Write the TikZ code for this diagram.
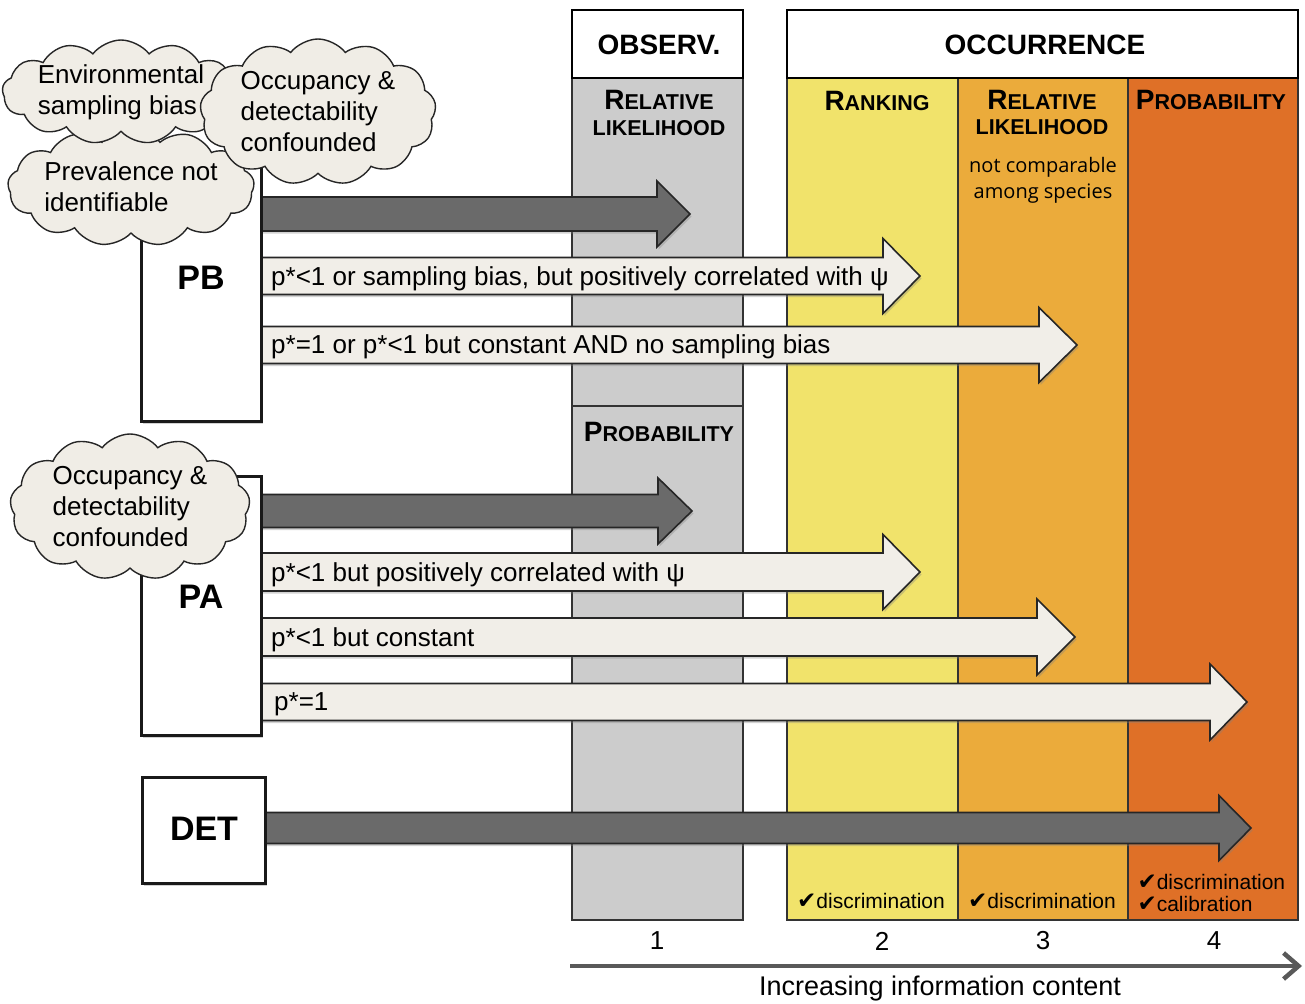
\documentclass[tikz,border=0pt]{standalone}
\usepackage{fontspec}
\setmainfont{Liberation Sans}
\newfontfamily\altfont{Open Sans}
\newfontfamily\symfont{DejaVu Sans}
\usetikzlibrary{shapes.symbols,shadows,arrows.meta}

\definecolor{colgray}{HTML}{CCCCCC}
\definecolor{rankY}{HTML}{F1E36B}
\definecolor{relO}{HTML}{EBAB3B}
\definecolor{probO}{HTML}{DF7027}
\definecolor{lightA}{HTML}{F1EEE8}
\definecolor{darkA}{HTML}{6A6A6A}
\definecolor{cloudF}{HTML}{F0EDE6}
\definecolor{edgeG}{HTML}{333333}
\definecolor{axisG}{HTML}{595959}

\newcommand{\SCap}[2]{{\fontsize{28}{30}\selectfont #1}{\fontsize{21.5}{24}\selectfont #2}}
\newcommand{\chk}{{\symfont\fontsize{23}{24}\selectfont ✔}}
% #1 style, #2 name, #3 x0, #4 head base x, #5 tip x, #6 centre y, #7 half shaft, #8 half head
\newcommand{\blkarr}[8]{%
  \filldraw[#1] (#3,#6-#7) -- (#4,#6-#7) -- (#4,#6-#8) -- (#5,#6) -- (#4,#6+#8) -- (#4,#6+#7) -- (#3,#6+#7) -- cycle;
  \coordinate (#2) at (#5,#6);}

\begin{document}
\begin{tikzpicture}[x=1pt,y=-1pt,
  colline/.style={draw=edgeG, line width=1.5pt},
  hdr/.style={font=\bfseries\fontsize{28}{30}\selectfont},
  sc/.style={font=\bfseries, inner sep=0pt},
  lightarr/.style={fill=lightA, draw=black!85, line width=1.6pt, line join=miter,
     drop shadow={shadow xshift=1.5pt, shadow yshift=-2.5pt, opacity=0.35}},
  darkarr/.style={fill=darkA, draw=black!85, line width=1.6pt, line join=miter,
     drop shadow={shadow xshift=1.5pt, shadow yshift=-2.5pt, opacity=0.35}},
  arrtext/.style={anchor=west, inner sep=0pt, font=\fontsize{26}{30}\selectfont},
  boxst/.style={draw=black!90, fill=white, line width=3pt,
     drop shadow={shadow xshift=1.5pt, shadow yshift=-2.5pt, opacity=0.35}},
  bigl/.style={font=\bfseries\fontsize{34}{36}\selectfont},
  cloudst/.style={cloud, cloud puffs=13, cloud puff arc=105, cloud ignores aspect,
     draw=black!85, fill=cloudF, line width=1.4pt, inner sep=0pt, align=left,
     font=\fontsize{26}{31}\selectfont},
  small/.style={font=\fontsize{21}{24}\selectfont},
  num/.style={font=\fontsize{26}{28}\selectfont}
]
\useasboundingbox (0,0) rectangle (1305,1003);
\fill[white] (0,0) rectangle (1305,1003);

% ---------- columns ----------
\filldraw[colline, fill=colgray] (572,78) rectangle (743,920);
\draw[colline] (572,406) -- (743,406);
\filldraw[colline, draw=black, fill=white] (572,10) rectangle (743,78);
\fill[rankY] (787,78) rectangle (958,920);
\fill[relO] (958,78) rectangle (1128,920);
\fill[probO] (1128,78) rectangle (1298,920);
\draw[colline] (787,78) rectangle (1298,920);
\draw[colline] (958,78) -- (958,920);
\draw[colline] (1128,78) -- (1128,920);
\filldraw[colline, draw=black, fill=white] (787,10) rectangle (1298,78);

\node[hdr] (hobs) at (659,45) {OBSERV.};
\node[hdr] (hocc) at (1045,45) {OCCURRENCE};
\node[sc, anchor=base] (obsrl1) at (659,110) {\SCap{R}{ELATIVE}};
\node[sc, anchor=base] (obsrl2) at (659,136) {\SCap{}{LIKELIHOOD}};
\node[sc, anchor=base] (obspr) at (659,441) {\SCap{P}{ROBABILITY}};
\node[sc, anchor=base] (rank) at (877,111) {\SCap{R}{ANKING}};
\node[sc, anchor=base] (relik1) at (1042,110) {\SCap{R}{ELATIVE}};
\node[sc, anchor=base] (relik2) at (1042,135) {\SCap{}{LIKELIHOOD}};
\node[align=center, font=\altfont\fontsize{20}{26}\selectfont] (notc) at (1043,180) {not comparable\\among species};
\node[sc, anchor=base] (prob) at (1211,110) {\SCap{P}{ROBABILITY}};

% ---------- block arrows ----------
\blkarr{darkarr}{pbA}{261}{657}{690}{214}{17}{33}
\blkarr{lightarr}{pbB}{261}{883}{920}{276}{18.5}{37.5}
\blkarr{lightarr}{pbC}{261}{1039}{1077}{345}{18.5}{37.5}
\blkarr{darkarr}{paA}{261}{658}{692}{511}{16.5}{33}
\blkarr{lightarr}{paB}{261}{883}{920}{572}{19}{37.5}
\blkarr{lightarr}{paC}{261}{1037}{1075}{637}{19}{38}
\blkarr{lightarr}{paD}{261}{1210}{1247}{702}{18.5}{38}
\blkarr{darkarr}{detA}{265}{1219}{1251}{828}{15.5}{32.5}

\node[arrtext] (tB) at (271,279) {p*<1 or sampling bias, but positively correlated with ψ};
\node[arrtext] (tC) at (271,347) {p*=1 or p*<1 but constant AND no sampling bias};
\node[arrtext] (tD) at (271,575) {p*<1 but positively correlated with ψ};
\node[arrtext] (tE) at (271,640) {p*<1 but constant};
\node[arrtext] (tF) at (274,704) {p*=1};

% ---------- boxes ----------
\node[boxst, minimum width=120, minimum height=262] (PB) at (201,290) {};
\node[bigl] (PBl) at (201,278) {PB};
\node[boxst, minimum width=120, minimum height=259] (PA) at (201,605.5) {};
\node[bigl] (PAl) at (201,597) {PA};
\node[boxst, minimum width=123, minimum height=106] (DET) at (203.5,830) {};
\node[bigl] (DETl) at (204,829) {DET};

% ---------- clouds ----------
\node[cloudst, minimum width=234, minimum height=118] (cPrev) at (131,187) {Prevalence not\\identifiable};
\node[cloudst, minimum width=232, minimum height=104] (cEnv) at (121,92) {Environmental\\sampling bias};
\node[cloudst, minimum width=236, minimum height=146] (cOcc) at (318,112) {Occupancy \&\\detectability\\confounded};
\node[cloudst, minimum width=240, minimum height=146] (cPA) at (130,507) {Occupancy \&\\detectability\\confounded};

% ---------- bottom ----------
\node[small] (d2) at (871,901) {\chk discrimination};
\node[small] (d3) at (1042,901) {\chk discrimination};
\node[small, anchor=west] (d4) at (1134,882) {\chk discrimination};
\node[small, anchor=west] (c4) at (1134,904) {\chk calibration};

\node[num] (n1) at (657,941) {1};
\node[num] (n2) at (882,941) {2};
\node[num] (n3) at (1043,941) {3};
\node[num] (n4) at (1214,941) {4};

\coordinate (axL) at (570,966);
\coordinate (axR) at (1302,966);
\draw[axisG, line width=4.5pt, -{Straight Barb[length=15pt, width=26pt, line width=4.5pt]}] (axL) -- (axR);
\node[font=\fontsize{27}{30}\selectfont] (axlab) at (940,989) {Increasing information content};
\end{tikzpicture}
\end{document}
